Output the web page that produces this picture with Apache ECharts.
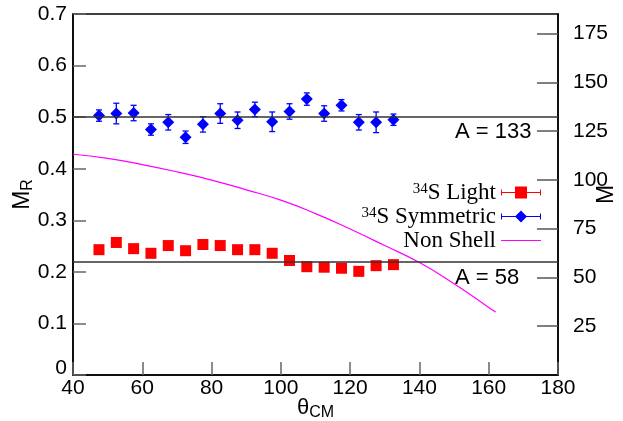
<!DOCTYPE html>
<html>
<head>
<meta charset="utf-8">
<script src="https://cdn.jsdelivr.net/npm/echarts@6/dist/echarts.min.js"></script>
<style>html,body{margin:0;padding:0;background:#fff;}#c{width:623px;height:421px;}</style>
</head>
<body>
<div id="c"></div>
<script>
// ---- data ----
var theta = [47.5, 52.5, 57.5, 62.5, 67.5, 72.5, 77.5, 82.5, 87.5, 92.5, 97.5, 102.5, 107.5, 112.5, 117.5, 122.5, 127.5, 132.5];
var symVals = [0.503, 0.507, 0.508, 0.476, 0.490, 0.461, 0.486, 0.507, 0.494, 0.515, 0.491, 0.511, 0.535, 0.507, 0.523, 0.490, 0.490, 0.495];
var symErr  = [0.011, 0.020, 0.015, 0.011, 0.015, 0.012, 0.015, 0.019, 0.016, 0.014, 0.019, 0.015, 0.012, 0.015, 0.011, 0.015, 0.020, 0.011];
var lightVals = [0.243, 0.257, 0.245, 0.236, 0.251, 0.241, 0.253, 0.251, 0.243, 0.243, 0.236, 0.222, 0.210, 0.209, 0.207, 0.201, 0.212, 0.214];
var lightErr  = [0.005, 0.008, 0.005, 0.005, 0.005, 0.005, 0.005, 0.005, 0.005, 0.005, 0.005, 0.005, 0.005, 0.005, 0.005, 0.005, 0.005, 0.005];
var curveTheta = [40, 50, 60, 70, 80, 90, 100, 110, 120, 130, 140, 150, 160, 162];
var curveVals  = [0.428, 0.420, 0.408, 0.394, 0.378, 0.359, 0.339, 0.313, 0.283, 0.251, 0.218, 0.177, 0.131, 0.122];
var refLines = [0.5, 0.218];
var refLabels = ['A = 133', 'A = 58'];

function pairs(xs, ys) { return xs.map(function (x, i) { return [x, ys[i]]; }); }
function errPairs(xs, ys, es) { return xs.map(function (x, i) { return [x, ys[i] - es[i], ys[i] + es[i]]; }); }

function errRender(color) {
  return function (params, api) {
    var x = api.value(0);
    var lo = api.coord([x, api.value(1)]);
    var hi = api.coord([x, api.value(2)]);
    var cap = 3;
    var st = { stroke: color, lineWidth: 1.3 };
    return {
      type: 'group',
      children: [
        { type: 'line', shape: { x1: lo[0], y1: lo[1], x2: hi[0], y2: hi[1] }, style: st },
        { type: 'line', shape: { x1: lo[0] - cap, y1: lo[1], x2: lo[0] + cap, y2: lo[1] }, style: st },
        { type: 'line', shape: { x1: hi[0] - cap, y1: hi[1], x2: hi[0] + cap, y2: hi[1] }, style: st }
      ]
    };
  };
}

var lightIcon = 'path://M0 5.5H40V6.5H0Z M0 3H1V9H0Z M39 3H40V9H39Z M14 0H26V12H14Z';
var symIcon = 'path://M0 5.5H40V6.5H0Z M0 3H1V9H0Z M39 3H40V9H39Z M20 0L26 6L20 12L14 6Z';
var lineIcon = 'path://M0 0H40V0.01H0Z M0 5.5H40V6.5H0Z M0 11.99H40V12H0Z';

var font = 'Liberation Sans, Arial, sans-serif';
var serif = 'Liberation Serif, Times New Roman, serif';

var chart = echarts.init(document.getElementById('c'), null, { renderer: 'canvas' });
var option = {
  animation: false,
  backgroundColor: '#fff',
  grid: { left: 73, right: 65, top: 14, bottom: 46, containLabel: false, outerBoundsMode: 'none',
          show: true, borderColor: '#000', borderWidth: 1.5, backgroundColor: 'transparent' },
  legend: {
    orient: 'vertical',
    right: 77,
    top: 176,
    align: 'right',
    itemWidth: 40,
    itemHeight: 12,
    itemGap: 0,
    selectedMode: false,
    data: [
      { name: 'Light', icon: lightIcon, itemStyle: { color: '#ff0000' } },
      { name: 'Symmetric', icon: symIcon, itemStyle: { color: '#0000ff' } },
      { name: 'Non Shell', icon: lineIcon, itemStyle: { color: '#ff00ff' } }
    ],
    formatter: function (n) {
      if (n === 'Light') return '{sup|34}{t|S Light}';
      if (n === 'Symmetric') return '{sup|34}{t|S Symmetric}';
      return '{t|Non Shell}';
    },
    textStyle: {
      color: '#000', fontFamily: serif, fontSize: 23, lineHeight: 21,
      rich: {
        t: { fontFamily: serif, fontSize: 23, color: '#000', lineHeight: 21 },
        sup: { fontFamily: serif, fontSize: 15, color: '#000', lineHeight: 21, verticalAlign: 'top', padding: [0, 0, 8, 0] }
      }
    }
  },
  xAxis: {
    type: 'value', min: 40, max: 180, interval: 20,
    name: '{a|θ}{b|CM}', nameLocation: 'middle', nameGap: 20, nameMoveOverlap: false,
    nameTextStyle: { rich: { a: { fontFamily: font, fontSize: 22, color: '#000' },
                             b: { fontFamily: font, fontSize: 16, color: '#000', padding: [10, 0, 0, 0] } } },
    axisLine: { show: true, lineStyle: { color: '#000', width: 1.5 } },
    axisTick: { show: true, inside: true, length: 13, lineStyle: { color: '#666', width: 1.5 } },
    axisLabel: { color: '#000', fontFamily: font, fontSize: 21, margin: 3 },
    splitLine: { show: false }
  },
  yAxis: [
    {
      type: 'value', min: 0, max: 0.7, interval: 0.1,
      name: '{a|M}{b|R}', nameLocation: 'middle', nameGap: 37, nameRotate: 90, nameMoveOverlap: false,
      nameTextStyle: { rich: { a: { fontFamily: font, fontSize: 23, color: '#000' },
                               b: { fontFamily: font, fontSize: 16, color: '#000', padding: [10, 0, 0, 0] } } },
      axisLine: { show: true, lineStyle: { color: '#000', width: 1.5 } },
      axisTick: { show: true, inside: true, length: 13, lineStyle: { color: '#666', width: 1.5 } },
      axisLabel: { color: '#000', fontFamily: font, fontSize: 21, margin: 6,
                   formatter: function (v) { return v === 0 ? '{z|0}' : v.toFixed(1); },
                   rich: { z: { fontFamily: font, fontSize: 21, color: '#000', padding: [0, 0, 14, 0] } } },
      splitLine: { show: false }
    },
    {
      type: 'value', min: 0, max: 185, interval: 25, position: 'right',
      name: 'M', nameLocation: 'middle', nameGap: 37, nameRotate: 90, nameMoveOverlap: false,
      nameTextStyle: { fontFamily: font, fontSize: 23, color: '#000' },
      axisLine: { show: true, lineStyle: { color: '#000', width: 1.5 } },
      axisTick: { show: true, inside: true, length: 21, lineStyle: { color: '#555', width: 1.5 } },
      axisLabel: { color: '#000', fontFamily: font, fontSize: 21, margin: 15, showMinLabel: false, showMaxLabel: false,
                   formatter: function (v) { return (v > 0 && v <= 175 && v % 25 === 0) ? String(v) : ''; } },
      splitLine: { show: false }
    }
  ],
  graphic: [],
  series: [
    {
      name: 'Non Shell', type: 'line', data: pairs(curveTheta, curveVals),
      showSymbol: false, symbol: 'none', smooth: true,
      lineStyle: { color: '#ff00ff', width: 1.2 }, itemStyle: { color: '#ff00ff' }, z: 2,
      markLine: {
        silent: true, symbol: 'none', animation: false,
        lineStyle: { color: '#333', width: 1.5, type: 'solid' },
        label: { show: false },
        data: refLines.map(function (v) { return { yAxis: v }; })
      }
    },
    {
      name: 'lightErr', type: 'custom', data: errPairs(theta, lightVals, lightErr),
      renderItem: errRender('#ff6666'), encode: { x: 0, y: [1, 2] }, z: 3
    },
    {
      name: 'Light', type: 'scatter', data: pairs(theta, lightVals),
      symbol: 'rect', symbolSize: 11, itemStyle: { color: '#ff0000', opacity: 1 }, z: 4
    },
    {
      name: 'symErr', type: 'custom', data: errPairs(theta, symVals, symErr),
      renderItem: errRender('#0000ff'), encode: { x: 0, y: [1, 2] }, z: 3
    },
    {
      name: 'Symmetric', type: 'scatter', data: pairs(theta, symVals),
      symbol: 'diamond', symbolSize: 12, itemStyle: { color: '#0000ff', opacity: 1 }, z: 4
    }
  ]
};
chart.setOption(option);

// reference labels, placed from axis scale
var gr = refLabels.map(function (t, i) {
  var p = chart.convertToPixel({ xAxisIndex: 0, yAxisIndex: 0 }, [180, refLines[i]]);
  return { type: 'text', left: p[0] - 103, top: p[1] + 4,
           style: { text: t, font: '22px ' + font, fill: '#000' } };
});
chart.setOption({ graphic: gr });
</script>
</body>
</html>
